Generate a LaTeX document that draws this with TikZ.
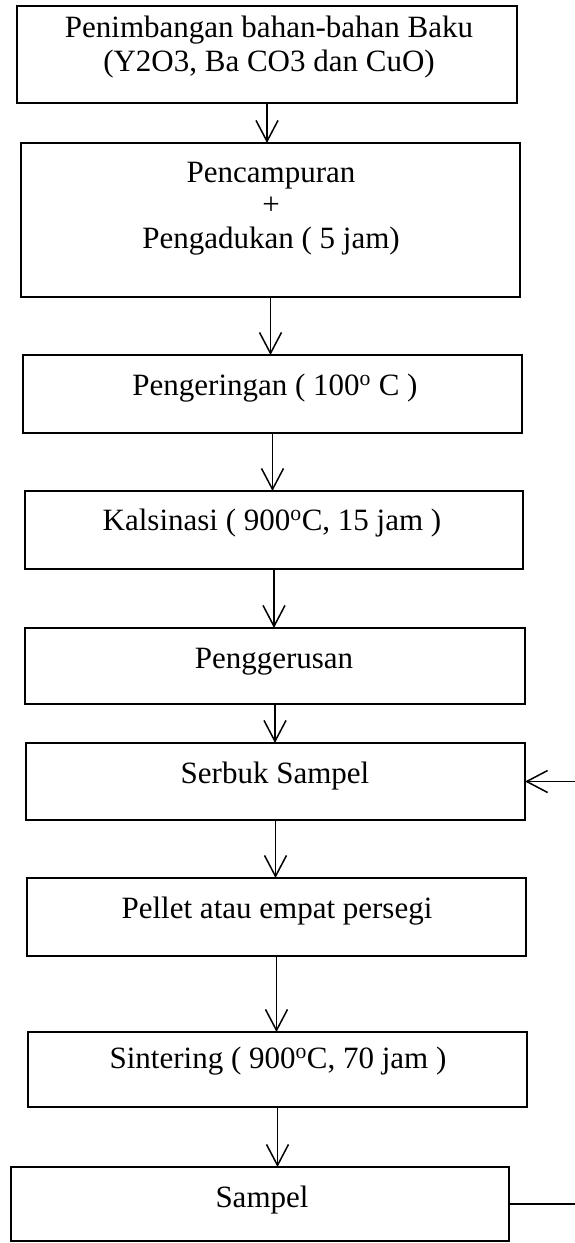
\documentclass[tikz,border=0pt]{standalone}
\usepackage{fontspec}
\setmainfont{Liberation Serif}
\usetikzlibrary{arrows.meta,calc}
\begin{document}
\begin{tikzpicture}[x=1pt,y=-1pt,
  box/.style={draw, line width=1.5pt, inner sep=0pt, outer sep=0pt},
  lbl/.style={anchor=base, inner sep=0pt, font=\fontsize{31}{34}\selectfont},
  conn/.style={line width=1.5pt},
  arr/.style={line width=1.5pt, -{Straight Barb[length=21pt,width=22pt,line width=1.5pt]}}]
\useasboundingbox (0,0) rectangle (575,1243);
% boxes
\node[box, minimum width=500pt, minimum height=97pt] (b1) at (267,54.5) {};
\node[box, minimum width=499pt, minimum height=154pt] (b2) at (270.5,220) {};
\node[box, minimum width=499pt, minimum height=78pt] (b3) at (272.5,394) {};
\node[box, minimum width=498pt, minimum height=78pt] (b4) at (274,530) {};
\node[box, minimum width=500pt, minimum height=76pt] (b5) at (275,666) {};
\node[box, minimum width=499pt, minimum height=77pt] (b6) at (275.5,781.5) {};
\node[box, minimum width=499pt, minimum height=78pt] (b7) at (276.5,917) {};
\node[box, minimum width=499pt, minimum height=75pt] (b8) at (277.5,1069.5) {};
\node[box, minimum width=498pt, minimum height=74pt] (b9) at (260,1204) {};
% labels
\node[lbl] (t1a) at (269,37) {Penimbangan bahan-bahan Baku};
\node[lbl] (t1b) at (269,71) {(Y2O3, Ba CO3 dan CuO)};
\node[lbl] (t2a) at (271,182) {Pencampuran};
\node[lbl] (t2b) at (271,214) {+};
\node[lbl] (t2c) at (271,248) {Pengadukan ( 5 jam)};
\node[lbl] (t3) at (275,395) {Pengeringan ( 100\textsuperscript{o} C )};
\node[lbl] (t4) at (272,530) {Kalsinasi ( 900\textsuperscript{o}C, 15 jam )};
\node[lbl] (t5) at (274,668) {Penggerusan};
\node[lbl] (t6) at (275,783) {Serbuk Sampel};
\node[lbl] (t7) at (277,918) {Pellet atau empat persegi};
\node[lbl] (t8) at (278,1068) {Sintering ( 900\textsuperscript{o}C, 70 jam )};
\node[lbl] (t9) at (262,1207) {Sampel};
% connectors
\draw[arr] (b1.south) -- (b1.south |- b2.north);
\draw[arr] (b2.south) -- (b2.south |- b3.north);
\draw[arr] (b3.south) -- (b3.south |- b4.north);
\draw[arr] (b4.south) -- (b4.south |- b5.north);
\draw[arr] (b5.south) -- (b5.south |- b6.north);
\draw[arr] (b6.south) -- (b6.south |- b7.north);
\draw[arr] (b7.south) -- (b7.south |- b8.north);
\draw[arr] (b8.south) -- (b8.south |- b9.north);
% feedback (loop leaves the page on the right)
\coordinate (fbA) at (575,1204);
\coordinate (fbB) at (575,781.5);
\draw[conn] (b9.east) -- (fbA);
\draw[arr] (fbB) -- (b6.east);
\end{tikzpicture}
\end{document}
